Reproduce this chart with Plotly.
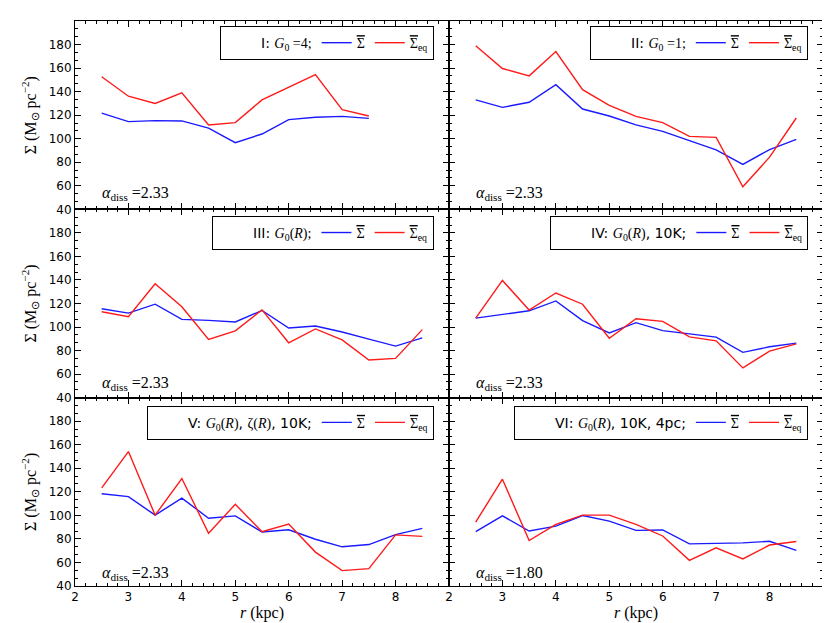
import plotly.graph_objects as go
from plotly.subplots import make_subplots

# ---- data ----
r_full = [2.5, 3.0, 3.5, 4.0, 4.5, 5.0, 5.5, 6.0, 6.5, 7.0, 7.5, 8.0, 8.5]
r_short = [2.5, 3.0, 3.5, 4.0, 4.5, 5.0, 5.5, 6.0, 6.5, 7.0, 7.5]

sig_I = [121.8, 114.5, 115.4, 115.1, 109.0, 96.6, 104.0, 116.2, 118.2, 119.0, 117.3]
eq_I = [152.6, 136.1, 130.0, 138.9, 111.7, 113.7, 133.0, 144.0, 154.5, 124.6, 119.3]

sig_II = [133.0, 126.6, 131.0, 145.9, 125.2, 119.3, 111.7, 106.2, 98.3, 90.5, 78.2, 90.8, 99.4]
eq_II = [178.9, 159.6, 153.4, 174.1, 141.7, 128.3, 119.0, 113.7, 102.0, 101.1, 59.2, 84.3, 117.6]

sig_III = [115.5, 111.8, 119.4, 106.5, 105.7, 104.3, 114.1, 99.2, 100.9, 95.8, 89.7, 83.8, 90.8]
eq_III = [113.0, 108.8, 136.8, 117.2, 89.4, 96.7, 114.6, 86.6, 98.4, 89.1, 72.0, 73.4, 97.8]

sig_IV = [107.6, 110.4, 113.8, 122.2, 105.4, 95.0, 103.7, 97.0, 94.1, 91.4, 78.5, 83.2, 86.3]
eq_IV = [107.6, 139.6, 114.4, 128.9, 119.4, 90.5, 107.1, 104.8, 91.6, 88.3, 65.3, 79.6, 85.7]

sig_V = [118.4, 115.9, 100.2, 114.7, 97.6, 99.6, 85.9, 87.8, 79.7, 73.3, 75.2, 83.6, 89.0]
eq_V = [123.4, 154.2, 100.2, 131.3, 84.8, 109.4, 86.2, 92.6, 68.8, 53.1, 54.8, 83.4, 82.2]

sig_VI = [86.2, 99.6, 86.7, 90.9, 99.9, 95.1, 87.3, 87.6, 75.8, 76.1, 76.6, 78.0, 70.2]
eq_VI = [94.3, 130.7, 78.6, 92.3, 100.2, 100.2, 92.3, 82.5, 61.8, 72.4, 63.0, 74.8, 77.8]

SERIF = "Liberation Serif"
SANS = "DejaVu Sans"

def sans(t):
    return f"<span style='font-family:{SANS}'>{t}</span>"

def serif(t):
    return f"<span style='font-family:{SERIF}'>{t}</span>"

SIGBAR = "<span style='text-decoration:overline'>Σ</span>"

G0R = "<i>G</i><sub>0</sub>(<i>R</i>)"
labels = [
    sans("I: ") + serif("<i>G</i><sub>0</sub> =4;"),
    sans("II: ") + serif("<i>G</i><sub>0</sub> =1;"),
    sans("III: ") + serif(G0R + ";"),
    sans("IV: ") + serif(G0R) + sans(", 10K;"),
    sans("V: ") + serif(G0R) + sans(", ") + serif("ζ(<i>R</i>)") + sans(", 10K;"),
    sans("VI: ") + serif(G0R) + sans(", 10K, 4pc;"),
]
alphas = ["2.33", "2.33", "2.33", "2.33", "2.33", "1.80"]

panels = [
    (r_short, sig_I, eq_I),
    (r_full, sig_II, eq_II),
    (r_full, sig_III, eq_III),
    (r_full, sig_IV, eq_IV),
    (r_full, sig_V, eq_V),
    (r_full, sig_VI, eq_VI),
]

x_ticks = [2, 3, 4, 5, 6, 7, 8]
y_ticks = [40, 60, 80, 100, 120, 140, 160, 180]

fig = make_subplots(rows=3, cols=2, horizontal_spacing=0, vertical_spacing=0)

legend_pos = {}
for i, (xs, s, e) in enumerate(panels):
    row = i // 2 + 1
    col = i % 2 + 1
    lg = "legend" if i == 0 else f"legend{i+1}"
    fig.add_trace(go.Scatter(x=[None], y=[None], mode="lines", name=labels[i],
                             line=dict(color="rgba(0,0,0,0)", width=0),
                             legend=lg, hoverinfo="skip"), row=row, col=col)
    fig.add_trace(go.Scatter(x=xs, y=s, mode="lines", name=SIGBAR,
                             line=dict(color="#1a1aff", width=1.4), legend=lg),
                  row=row, col=col)
    fig.add_trace(go.Scatter(x=xs, y=e, mode="lines", name=SIGBAR + "<sub>eq</sub>",
                             line=dict(color="#ff1a1a", width=1.4), legend=lg),
                  row=row, col=col)
    xr = 0.480 if col == 1 else 0.980
    ytop = [0.991, 0.655, 0.319][row - 1]
    legend_pos[lg] = dict(
        orientation="h", x=xr, y=ytop, xanchor="right", yanchor="top",
        bgcolor="white", bordercolor="black", borderwidth=1,
        font=dict(family=SERIF, size=14, color="black"),
        itemwidth=30, traceorder="normal",
    )
    # alpha annotation
    xa = 0.033 if col == 1 else 0.533
    ya = [0.695, 0.359, 0.023][row - 1]
    fig.add_annotation(
        text="<i>α</i><sub>diss</sub> =" + alphas[i], xref="paper", yref="paper",
        x=xa, y=ya, xanchor="left", yanchor="middle", showarrow=False,
        font=dict(family=SERIF, size=16, color="black"))

fig.update_layout(**legend_pos)

for row in range(1, 4):
    for col in range(1, 3):
        fig.update_xaxes(
            range=[2, 9], tickvals=x_ticks, showticklabels=(row == 3),
            ticks="inside", ticklen=6, tickwidth=1, tickcolor="black",
            minor=dict(dtick=0.2, tick0=2, ticks="inside", ticklen=3, tickcolor="black"),
            showline=True, linecolor="black", linewidth=1, mirror="allticks",
            showgrid=False, zeroline=False,
            tickfont=dict(family=SANS, size=12, color="black"),
            row=row, col=col)
        fig.update_yaxes(
            range=[40, 200], tickvals=y_ticks, showticklabels=(col == 1),
            ticks="inside", ticklen=6, tickwidth=1, tickcolor="black",
            minor=dict(dtick=20 / 3, tick0=40, ticks="inside", ticklen=3, tickcolor="black"),
            showline=True, linecolor="black", linewidth=1, mirror="allticks",
            showgrid=False, zeroline=False,
            tickfont=dict(family=SANS, size=12, color="black"),
            row=row, col=col)
    fig.update_yaxes(
        title=dict(text="Σ (M<sub>⊙</sub> pc<sup>−2</sup>)", standoff=8,
                   font=dict(family=SERIF, size=16, color="black")),
        row=row, col=1)

for col in (1, 2):
    fig.update_xaxes(
        title=dict(text="<i>r</i> (kpc)", standoff=3,
                   font=dict(family=SERIF, size=16, color="black")),
        row=3, col=col)

fig.update_layout(
    width=830, height=623,
    margin=dict(l=67, r=15, t=13, b=39),
    paper_bgcolor="white", plot_bgcolor="white",
    showlegend=True,
)

fig.write_html("out.html")
